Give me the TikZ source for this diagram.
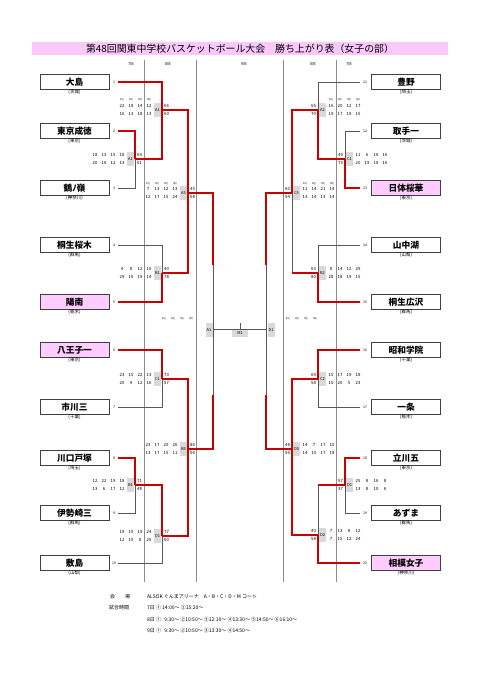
\documentclass[tikz,border=0pt]{standalone}
\usepackage{fontspec}
\setmainfont{Noto Sans CJK JP}
\usetikzlibrary{calc}
\definecolor{pinkf}{RGB}{255,204,255}
\definecolor{titlef}{RGB}{250,200,250}
\definecolor{redl}{RGB}{200,0,0}
\definecolor{boxgray}{RGB}{217,217,217}
\tikzset{
 teambox/.style={draw=black!75, line width=0.7pt, minimum width=69pt, minimum height=15pt, inner sep=0pt, font=\bfseries\fontsize{8.7}{9}\selectfont},
 pinkbox/.style={teambox, fill=pinkf},
 pref/.style={font=\fontsize{4.5}{5}\selectfont, inner sep=0pt},
 tnum/.style={font=\fontsize{3.5}{4}\selectfont, inner sep=0pt},
 num/.style={font=\fontsize{4.3}{5}\selectfont, inner sep=0pt},
 hdr/.style={font=\fontsize{2.8}{3}\selectfont, inner sep=0pt},
 glab/.style={fill=boxgray, minimum width=7pt, minimum height=14pt, inner sep=0pt, font=\fontsize{4}{4}\selectfont},
 mlab/.style={fill=boxgray, minimum width=16pt, minimum height=7pt, inner sep=0pt, font=\fontsize{4}{4}\selectfont},
 bline/.style={draw=black!65, line width=0.6pt},
 rline/.style={draw=redl, line width=1.1pt},
 longl/.style={draw=black!45, line width=0.9pt},
 dayl/.style={font=\fontsize{3.8}{4}\selectfont, inner sep=0pt},
 info/.style={font=\fontsize{5}{6}\selectfont, inner sep=0pt, anchor=west},
}
\newcommand{\lteam}[5]{%
 \node[#5] (L#1) at (74.5,#2) {#3};
 \node[pref] (L#1p) at (74.5,{#2+10}) {(#4)};
 \node[tnum] (L#1n) at (114,#2) {#1};
 \coordinate (L#1s) at (118,#2);
}
\newcommand{\rteam}[5]{%
 \node[#5] (R#1) at (406,#2) {#3};
 \node[pref] (R#1p) at (406,{#2+10}) {(#4)};
 \node[tnum] (R#1n) at (365,#2) {#1};
 \coordinate (R#1s) at (360,#2);
}
% left game: name,x,y,label,top quarters,bottom quarters,top total,bottom total
\newcommand{\lgame}[8]{%
 \coordinate (#1) at (#2,#3);
 \node[glab] (#1lab) at ({#2-4.5},#3) {#4};
 \node[num] (#1tt) at ({#2+4.5},{#3-4}) {#7};
 \node[num] (#1tb) at ({#2+4.5},{#3+4}) {#8};
 \foreach \v [count=\i] in {#5} {\node[num] (#1q\i) at ({#2-49+9*\i},{#3-4}) {\v};}
 \foreach \v [count=\i] in {#6} {\node[num] (#1r\i) at ({#2-49+9*\i},{#3+4}) {\v};}
}
\newcommand{\rgame}[8]{%
 \coordinate (#1) at (#2,#3);
 \node[glab] (#1lab) at ({#2+4.5},#3) {#4};
 \node[num] (#1tt) at ({#2-4.5},{#3-4}) {#7};
 \node[num] (#1tb) at ({#2-4.5},{#3+4}) {#8};
 \foreach \v [count=\i] in {#5} {\node[num] (#1q\i) at ({#2+4+9*\i},{#3-4}) {\v};}
 \foreach \v [count=\i] in {#6} {\node[num] (#1r\i) at ({#2+4+9*\i},{#3+4}) {\v};}
}
\newcommand{\qhdr}[3]{% name,x0,y
 \foreach \v [count=\i] in {1Q,2Q,3Q,4Q} {\node[hdr] (#1h\i) at ({#2+9*(\i-1)},#3) {\v};}
}
\begin{document}
\begin{tikzpicture}[x=1pt,y=-1pt]
\useasboundingbox (0,0) rectangle (481,680);
\fill[white] (0,0) rectangle (481,680);
% title
\node[fill=titlef, minimum width=416pt, minimum height=13pt, inner sep=0pt, font=\fontsize{9.9}{10}\selectfont] (title) at (240,48.5) {第48回関東中学校バスケットボール大会　勝ち上がり表（女子の部）};
% day labels
\node[dayl] (d1) at (131,64) {7日};
\node[dayl] (d2) at (168,64) {8日};
\node[dayl] (d3) at (244,64) {9日};
\node[dayl] (d4) at (313,64) {8日};
\node[dayl] (d5) at (349,64) {7日};
% long gray lines
\foreach \x in {144,196,283,336} {\draw[longl] (\x,60) -- (\x,582);}
% teams
\lteam{1}{82}{大島}{茨城}{teambox}
\lteam{2}{131}{東京成徳}{東京}{teambox}
\lteam{3}{188}{鶴ﾉ嶺}{神奈川}{teambox}
\lteam{4}{245}{桐生桜木}{群馬}{teambox}
\lteam{5}{302}{陽南}{栃木}{pinkbox}
\lteam{6}{350}{八王子一}{東京}{pinkbox}
\lteam{7}{407}{市川三}{千葉}{teambox}
\lteam{8}{458}{川口戸塚}{埼玉}{teambox}
\lteam{9}{513}{伊勢崎三}{群馬}{teambox}
\lteam{10}{563}{敷島}{山梨}{teambox}
\rteam{11}{82}{豊野}{埼玉}{teambox}
\rteam{12}{131}{取手一}{茨城}{teambox}
\rteam{13}{188}{日体桜華}{東京}{pinkbox}
\rteam{14}{245}{山中湖}{山梨}{teambox}
\rteam{15}{302}{桐生広沢}{群馬}{teambox}
\rteam{16}{350}{昭和学院}{千葉}{teambox}
\rteam{17}{407}{一条}{栃木}{teambox}
\rteam{18}{458}{立川五}{東京}{teambox}
\rteam{19}{513}{あずま}{群馬}{teambox}
\rteam{20}{563}{相模女子}{神奈川}{pinkbox}
% games left
\lgame{gLa}{135}{159}{A1}{18,13,15,18}{20,16,12,13}{64}{61}
\lgame{gLb}{135}{485}{B1}{12,22,19,18}{13,6,17,12}{71}{48}
\lgame{gLA}{162}{110}{A1}{22,18,14,12}{16,13,18,13}{66}{60}
\lgame{gLB}{162}{273}{B1}{4,8,12,16}{29,16,19,14}{40}{78}
\lgame{gLC}{162}{379}{C1}{23,15,22,13}{20,9,12,16}{73}{57}
\lgame{gLD}{162}{536}{D1}{19,15,19,24}{12,15,8,25}{77}{60}
\lgame{gA5}{188}{193}{A5}{7,13,12,13}{12,17,15,24}{45}{68}
\lgame{gB5}{188}{449}{B5}{23,17,20,26}{13,17,15,11}{86}{56}
% games right
\rgame{gRc}{345}{159}{C1}{11,6,16,16}{20,19,18,16}{49}{73}
\rgame{gRd}{345}{485}{D1}{25,8,16,8}{13,8,10,6}{57}{37}
\rgame{gRA}{318}{110}{A2}{16,20,12,17}{19,17,19,15}{65}{70}
\rgame{gRB}{318}{273}{B2}{8,14,12,29}{28,18,19,15}{63}{80}
\rgame{gRC}{318}{379}{C2}{15,17,19,18}{10,20,5,23}{69}{58}
\rgame{gRD}{318}{535}{D2}{7,13,8,12}{7,15,12,24}{40}{58}
\rgame{gC5}{292}{193}{C5}{11,14,21,14}{13,14,13,14}{60}{54}
\rgame{gD5}{292}{449}{D5}{14,7,17,10}{14,10,17,18}{48}{59}
% semis and final
\coordinate (gSA) at (213,329);
\coordinate (gSD) at (266,329);
\node[glab] (gSAlab) at (209,330) {A1};
\node[glab] (gSDlab) at (271,330) {D1};
\coordinate (fm) at (240,329);
\coordinate (fmt) at (240,323);
\node[mlab] (M1) at (240,333.5) {M1};
% quarter headers
\qhdr{hLA}{122}{100}
\qhdr{hA5}{148}{184}
\qhdr{hRA}{331}{100}
\qhdr{hC5}{305}{184}
\qhdr{hSA}{164}{319}
\qhdr{hSD}{288}{319}
% gray bracket
\draw[bline] (L1s) -| (gLA) (L2s) -| (gLa) (L3s) -| (gLa) (gLa) -| (gLA)
 (L4s) -| (gLB) (L5s) -| (gLB) (gLA) -| (gA5) (gLB) -| (gA5)
 (L6s) -| (gLC) (L7s) -| (gLC) (L8s) -| (gLb) (L9s) -| (gLb) (gLb) -| (gLD) (L10s) -| (gLD)
 (gLC) -| (gB5) (gLD) -| (gB5) (gA5) -| (gSA) (gB5) -| (gSA);
\draw[bline] (R11s) -| (gRA) (R12s) -| (gRc) (R13s) -| (gRc) (gRc) -| (gRA)
 (R14s) -| (gRB) (R15s) -| (gRB) (gRA) -| (gC5) (gRB) -| (gC5)
 (R16s) -| (gRC) (R17s) -| (gRC) (R18s) -| (gRd) (R19s) -| (gRd) (gRd) -| (gRD) (R20s) -| (gRD)
 (gRC) -| (gD5) (gRD) -| (gD5) (gC5) -| (gSD) (gD5) -| (gSD);
\draw[bline] (gSA) -- (gSD) (fm) -- (fmt);
% red paths
\coordinate (eSA1) at (213,265);
\coordinate (eSA2) at (213,395);
\coordinate (eSD1) at (266,265);
\coordinate (eSD2) at (266,395);
\coordinate (kB2) at (292,273);
\coordinate (kD1) at (318,485);
\draw[rline] (L1s) -| (gLA) (L2s) -| (gLa) (gLa) -| (gLA) (gLA) -| (gA5)
 (L5s) -| (gLB) (gLB) -| (gA5) (gA5) -| (eSA1)
 (L6s) -| (gLC) (gLC) -| (gB5) (L8s) -| (gLb) (gLb) -| (gLD) (gLD) -| (gB5) (gB5) -| (eSA2);
\draw[rline] (R13s) -| (gRc) (gRc) -| (gRA) (gRA) -| (gC5)
 (R15s) -| (gRB) (gRB) -- (kB2) (gC5) -| (eSD1)
 (R16s) -| (gRC) (gRC) -| (gD5) (R18s) -| (gRd) (gRd) -- (kD1) (R20s) -| (gRD) (gRD) -| (gD5) (gD5) -| (eSD2);
% info
\node[info] (i1) at (110,597) {会　　場};
\node[info] (i2) at (147,597) {ALSOK ぐんまアリーナ　A・B・C・D・M コート};
\node[info] (i3) at (109,608) {試合時間};
\node[info] (i4) at (147,608) {7日 ① 14:00～ ②15:20～};
\node[info] (i5) at (147,620) {8日 ① \ \ 9:30～ ②10:50～ ③12:10～ ④13:30～ ⑤14:50～ ⑥16:10～};
\node[info] (i6) at (147,631) {9日 ① \ \ 9:30～ ②10:50～ ③13:30～ ④14:50～};
\end{tikzpicture}
\end{document}
